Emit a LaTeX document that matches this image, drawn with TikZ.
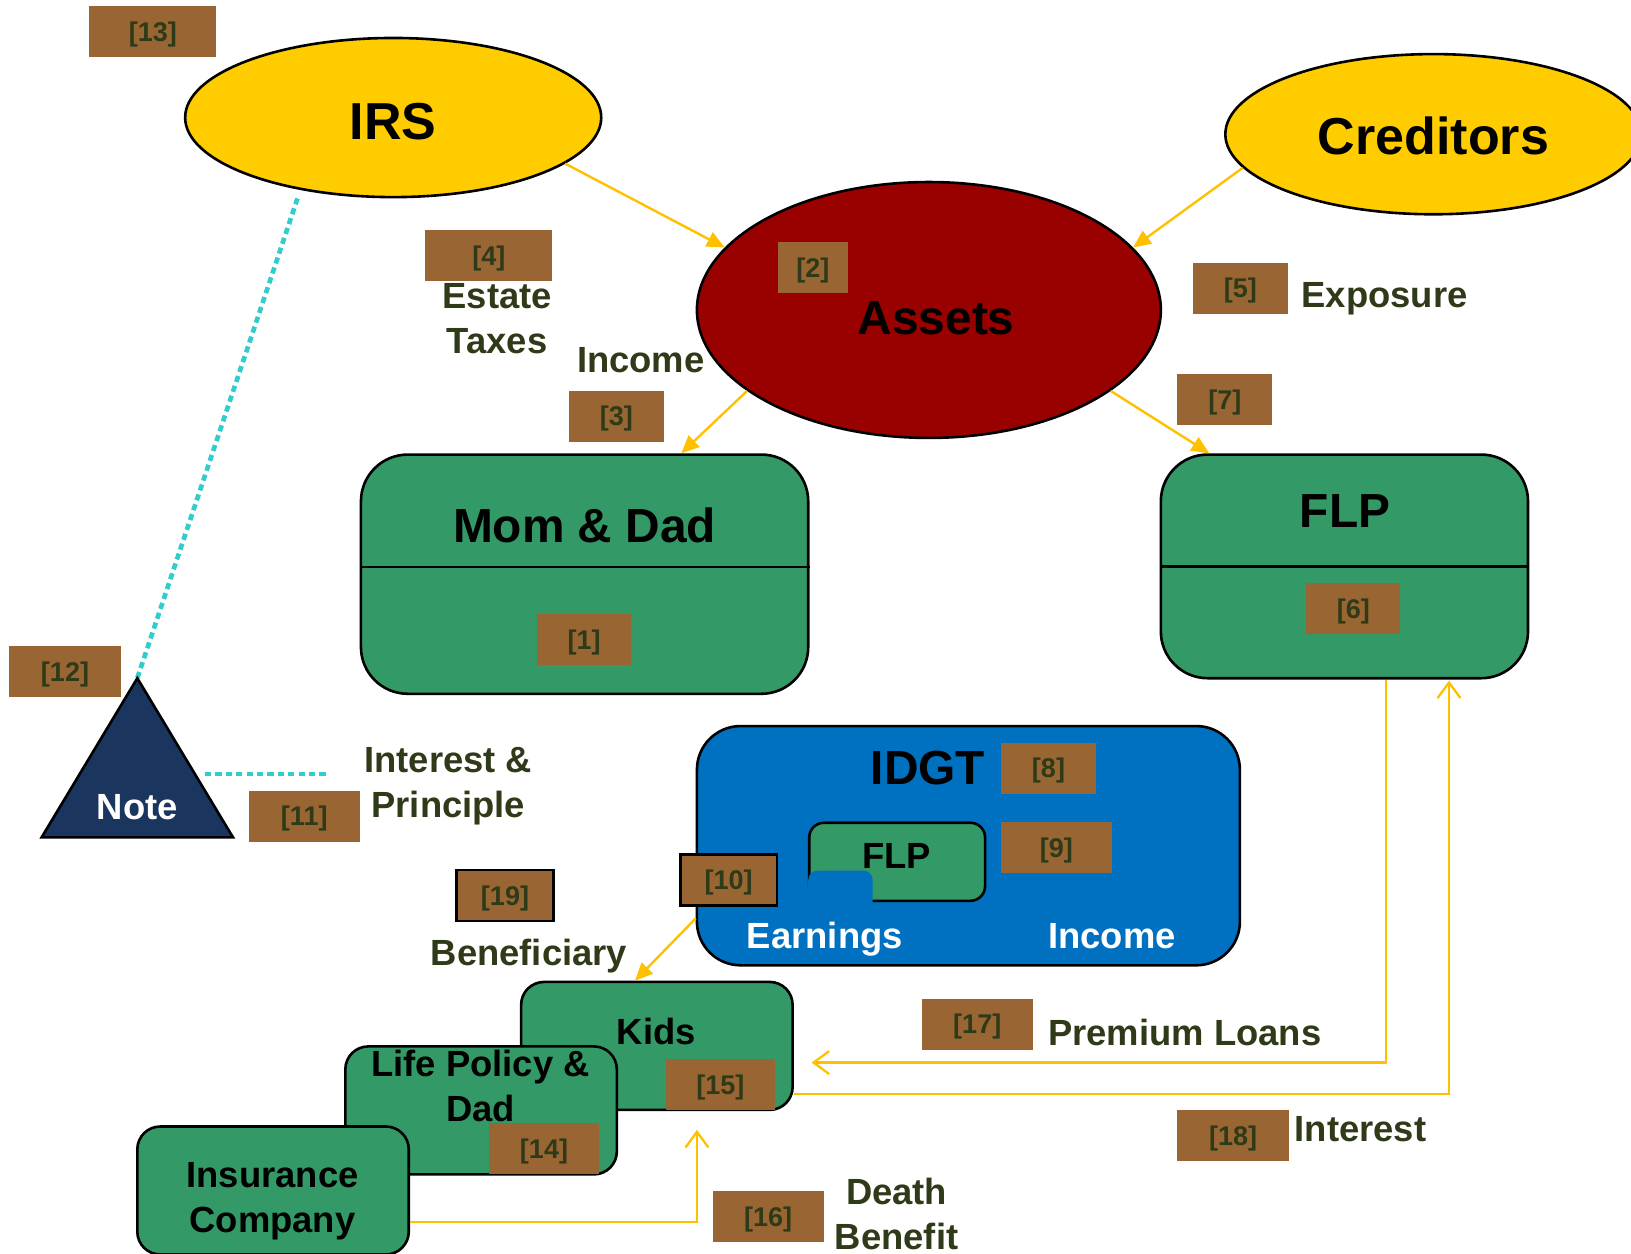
\documentclass[tikz,border=0pt]{standalone}
\usepackage{fontspec}
\setmainfont{Liberation Sans}
\usetikzlibrary{shapes.geometric,arrows.meta,calc}
\definecolor{grn}{HTML}{339966}
\definecolor{brn}{HTML}{996633}
\definecolor{olv}{HTML}{2E3A18}
\definecolor{ylw}{HTML}{FFCC00}
\definecolor{arr}{HTML}{FFC000}
\definecolor{cyn}{HTML}{33CCCC}
\definecolor{nvy}{HTML}{1A365F}
\definecolor{idb}{HTML}{0070C0}
\definecolor{drd}{HTML}{990000}
\begin{document}
\begin{tikzpicture}[x=1pt,y=-1pt,
  ell/.style={ellipse, draw=black, line width=2.5pt, inner sep=0pt},
  gbox/.style={draw=black, line width=2.5pt, fill=grn, inner sep=0pt},
  brk/.style={fill=brn, text=olv, font=\bfseries\fontsize{26}{30}\selectfont, inner sep=0pt, minimum height=49pt, text depth=0pt},
  brkb/.style={brk, draw=black, line width=2.5pt},
  lab/.style={text=olv, font=\bfseries\fontsize{35}{43}\selectfont, align=center, anchor=base, inner sep=0pt},
  ttl/.style={text=black, font=\bfseries\fontsize{35}{43}\selectfont, align=center, anchor=base, inner sep=0pt},
  bigttl/.style={text=black, font=\bfseries\fontsize{46}{52}\selectfont, anchor=base, inner sep=0pt},
  hugettl/.style={text=black, font=\bfseries\fontsize{50}{56}\selectfont, anchor=base, inner sep=0pt},
  wlab/.style={text=white, font=\bfseries\fontsize{35}{43}\selectfont, anchor=base, inner sep=0pt},
  yarr/.style={draw=arr, line width=2.3pt, -{Triangle[length=17pt,width=15pt]}},
  oarr/.style={draw=arr, line width=2.2pt, -{Straight Barb[length=15pt,width=22pt]}},
  cyd/.style={draw=cyn, line width=4.5pt, dash pattern=on 6pt off 4pt}
]
\useasboundingbox (0,0) rectangle (1568,1205);
\clip (0,0) rectangle (1568,1205);

% ellipses
\node[ell, fill=ylw, minimum width=400pt, minimum height=153pt] (irs) at (378,113) {};
\node[hugettl] (irst) at (378,134) {IRS};
\node[ell, fill=ylw, minimum width=400pt, minimum height=154pt] (creditors) at (1378,129) {};
\node[hugettl] (credt) at (1378,149) {Creditors};
\node[ell, fill=drd, minimum width=446pt, minimum height=246pt] (assets) at (893,298) {};
\node[bigttl] (assetst) at (900,322) {Assets};

% Mom & Dad
\node[gbox, rounded corners=45pt, minimum width=430pt, minimum height=230pt] (mom) at (562,552) {};
\draw[line width=2.5pt] ($(mom.west)+(0,-7)$) -- ($(mom.east)+(0,-7)$);
\node[bigttl] (momt) at (562,522) {Mom \& Dad};

% FLP
\node[gbox, rounded corners=45pt, minimum width=353pt, minimum height=215pt] (flp) at (1292.5,544.5) {};
\draw[line width=2.5pt] (flp.west) -- (flp.east);
\node[bigttl] (flpt) at (1293,507) {FLP};

% IDGT
\node[draw=black, line width=2.5pt, fill=idb, rounded corners=42pt, minimum width=522pt, minimum height=230pt, inner sep=0pt] (idgt) at (931,813) {};
\node[bigttl] (idgtt) at (892,754) {IDGT};
\node[gbox, rounded corners=14pt, minimum width=169pt, minimum height=75pt] (iflp) at (862.5,828.5) {};
\node[ttl] (iflpt) at (862,835) {FLP};
\fill[idb, rounded corners=9pt] (777,837) rectangle (839,876);
\node[wlab] (earn) at (793,912) {Earnings};
\node[wlab] (inc2) at (1069,912) {Income};

% stacked boxes
\node[gbox, rounded corners=22pt, minimum width=261pt, minimum height=123pt] (kids) at (631.5,1005.5) {};
\node[ttl] (kidst) at (631,1004) {Kids};
\node[brk, minimum width=105pt] (b15) at (692.5,1042.5) {[15]};
\node[gbox, rounded corners=22pt, minimum width=261pt, minimum height=123pt] (life) at (462.5,1067.5) {};
\node[ttl] (lifet) at (462,1078) {Life Policy \&\\Dad};
\node[brk, minimum width=106pt] (b14) at (523,1104.5) {[14]};
\node[gbox, rounded corners=22pt, minimum width=261pt, minimum height=123pt] (ins) at (262.5,1144.5) {};
\node[ttl] (inst) at (262,1185) {Insurance\\Company};

% Note triangle
\coordinate (apex) at (132,652);
\coordinate (bl) at (40,805);
\coordinate (br) at (224,805);
\coordinate (ipa) at (197,744);
\coordinate (ipb) at (316,744);
\draw[cyd] ($(irs.south)+(-92,0)$) -- (apex);
\draw[cyd] (ipa) -- (ipb);
\draw[fill=nvy, line width=2.5pt, line join=miter] (apex) -- (br) -- (bl) -- cycle;
\node[wlab] (notet) at (132,788) {Note};

% bracket labels
\node[brk, minimum width=122pt] (b13) at (147,30.5) {[13]};
\node[brk, minimum width=122pt] (b4) at (470,245.5) {[4]};
\node[brk, minimum width=67pt] (b2) at (781.5,257.5) {[2]};
\node[brk, minimum width=91pt] (b3) at (592.5,400) {[3]};
\node[brk, minimum width=91pt] (b5) at (1192.5,277) {[5]};
\node[brk, minimum width=91pt] (b7) at (1177.5,384.5) {[7]};
\node[brk, minimum width=91pt] (b1) at (561.5,615) {[1]};
\node[brk, minimum width=90pt] (b6) at (1301,585) {[6]};
\node[brk, minimum width=107pt] (b12) at (62.5,645.5) {[12]};
\node[brk, minimum width=107pt] (b11) at (292.5,784.5) {[11]};
\node[brk, minimum width=92pt] (b8) at (1008,738.5) {[8]};
\node[brk, minimum width=107pt] (b9) at (1015.5,815) {[9]};
\node[brkb, minimum width=93pt] (b10) at (700.5,846) {[10]};
\node[brkb, minimum width=93pt] (b19) at (485.5,861) {[19]};
\node[brk, minimum width=107pt] (b17) at (939.5,984.5) {[17]};
\node[brk, minimum width=107pt] (b18) at (1185.5,1092) {[18]};
\node[brk, minimum width=107pt] (b16) at (738.5,1169.5) {[16]};

% text labels
\node[lab] (estate) at (478,340) {Estate\\Taxes};
\node[lab] (income) at (616,358) {Income};
\node[lab] (expo) at (1331,296) {Exposure};
\node[lab] (intp) at (431,786) {Interest \&\\Principle};
\node[lab] (benef) at (508.5,928) {Beneficiary};
\node[lab] (prem) at (1139,1005) {Premium Loans};
\node[lab] (intr) at (1308,1097) {Interest};
\node[lab] (death) at (862,1201) {Death\\Benefit};

% connectors
\draw[yarr] (irs.-15.5) -- (assets.163);
\draw[yarr] (creditors.190) -- (assets.17);
\draw[yarr] (assets.204) -- ($(mom.north)+(93,0)$);
\draw[yarr] (assets.-24) -- ($(flp.north)+(-130,0)$);
\draw[yarr] ($(idgt.west)+(0,70)$) -- ($(kids.north)+(-21,0)$);
\draw[oarr] ($(flp.south)+(40,0)$) |- ($(kids.east)+(17,16)$);
\draw[oarr] ($(kids.east)+(0,46.5)$) -| ($(flp.south)+(100.5,1)$);
\draw[oarr] ($(ins.east)+(0,30.5)$) -| ($(kids.south)+(38.5,18)$);
\end{tikzpicture}
\end{document}
